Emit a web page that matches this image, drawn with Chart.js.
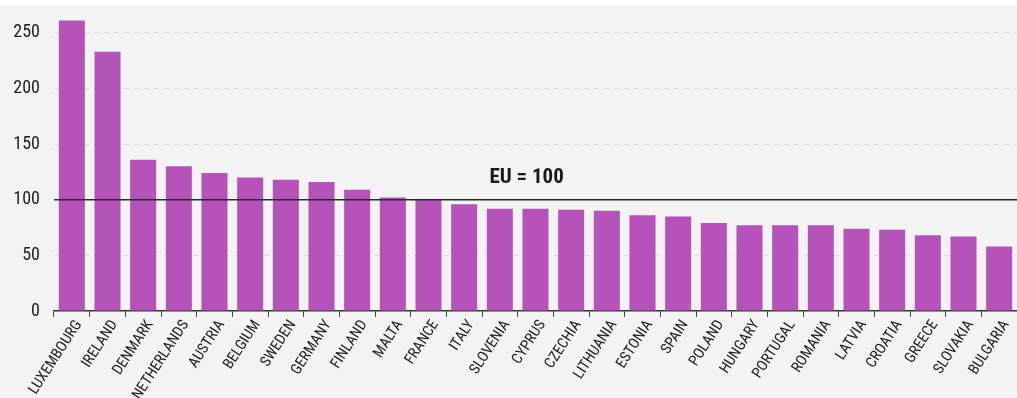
<!DOCTYPE html>
<html>
<head>
<meta charset="utf-8">
<script src="https://cdn.jsdelivr.net/npm/chart.js@4/dist/chart.umd.min.js"></script>
<style>
  body { margin: 0; background: #fff; }
  #wrap { padding-top: 5px; width: 1017px; height: 393px; }
  canvas { background: #f3f3f3; display: block; }
</style>
</head>
<body>
<div id="wrap"><canvas id="chart" width="1017" height="393"></canvas></div>
<script>
const countries = ['LUXEMBOURG','IRELAND','DENMARK','NETHERLANDS','AUSTRIA','BELGIUM','SWEDEN','GERMANY','FINLAND','MALTA','FRANCE','ITALY','SLOVENIA','CYPRUS','CZECHIA','LITHUANIA','ESTONIA','SPAIN','POLAND','HUNGARY','PORTUGAL','ROMANIA','LATVIA','CROATIA','GREECE','SLOVAKIA','BULGARIA'];
const values = [261, 233, 136, 130, 124, 120, 118, 116, 109, 102, 100, 96, 92, 92, 91, 90, 86, 85, 79, 77, 77, 77, 74, 73, 68, 67, 58];
const euLevel = 100;
const euLabel = 'EU = 100';

const font = "'Liberation Sans Narrow', 'Roboto Condensed', 'DejaVu Sans Condensed', sans-serif";

const euLine = {
  id: 'euLine',
  afterDatasetsDraw(chart) {
    const { ctx, chartArea, scales } = chart;
    const y = scales.y.getPixelForValue(euLevel);
    ctx.save();
    ctx.strokeStyle = '#2b2b35';
    ctx.lineWidth = 1.5;
    ctx.beginPath();
    ctx.moveTo(chartArea.left, y);
    ctx.lineTo(chartArea.right, y);
    ctx.stroke();
    ctx.fillStyle = '#1a1a1a';
    ctx.font = 'bold 21px ' + font;
    ctx.textAlign = 'center';
    ctx.textBaseline = 'alphabetic';
    ctx.fillText(euLabel, scales.x.getPixelForValue(12.75), y - 17);
    ctx.restore();
  }
};

new Chart(document.getElementById('chart'), {
  type: 'bar',
  data: {
    labels: countries,
    datasets: [{
      data: values,
      backgroundColor: '#b553bb',
      barPercentage: 0.73,
      categoryPercentage: 1
    }]
  },
  options: {
    responsive: false,
    animation: false,
    layout: { padding: 0 },
    plugins: { legend: { display: false }, tooltip: { enabled: false } },
    scales: {
      x: {
        afterFit: s => { s.paddingLeft = 0; s.paddingRight = 0; s.height = 87; },
        grid: { offset: true, drawOnChartArea: false, tickLength: 6, color: '#444' },
        border: { color: '#333', width: 1.5 },
        ticks: {
          color: '#222',
          font: { family: font, size: 15 },
          minRotation: 57,
          maxRotation: 57,
          autoSkip: false,
          padding: 0,
          labelOffset: 7
        }
      },
      y: {
        min: 0,
        max: 275,
        afterBuildTicks: scale => {
          scale.ticks = scale.ticks.filter(t => t.value % 50 === 0);
        },
        afterFit: s => { s.width = 54; s.paddingTop = 0; s.paddingBottom = 0; },
        ticks: {
          stepSize: 50,
          color: '#222',
          font: { family: font, size: 18 },
          padding: 14
        },
        border: { display: false, dash: [5, 5] },
        grid: {
          drawTicks: false,
          color: ctx => ctx.tick && ctx.tick.value === 0 ? 'rgba(0,0,0,0)' : '#dcdcdc'
        }
      }
    }
  },
  plugins: [euLine]
});
</script>
</body>
</html>
